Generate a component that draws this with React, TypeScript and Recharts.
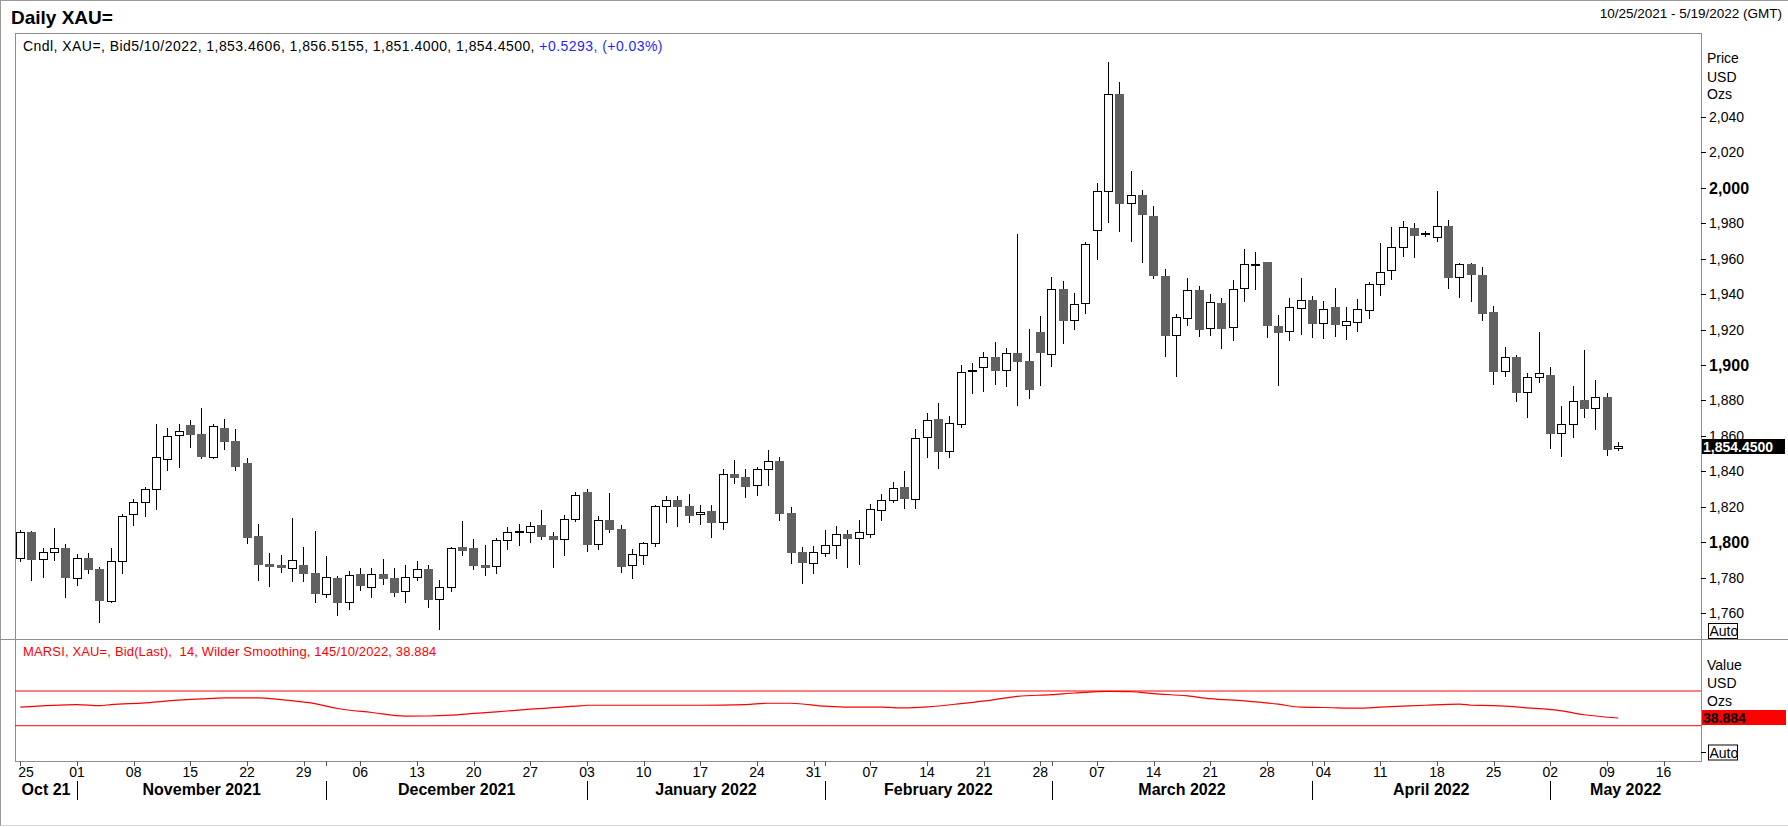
import React from "react";
import { ComposedChart, Bar, Line, XAxis, YAxis, ReferenceLine } from "recharts";

const FONT = "Arial, 'Liberation Sans', Helvetica, sans-serif";

// one candle per weekday, 25 Oct 2021 .. 10 May 2022 (index 0 = Oct 25)
const opens = [
  1790.8, 1805.6, 1790.2, 1794.2, 1796.6, 1779.9, 1790.8, 1784.7, 1766.9, 1789.6,
  1815.6, 1822.4, 1829.7, 1846.7, 1860.2, 1866.1, 1861.0, 1848.2, 1864.4, 1857.0,
  1844.6, 1803.4, 1787.6, 1787.0, 1785.5, 1787.0, 1782.5, 1770.5, 1779.7, 1766.0,
  1781.8, 1774.5, 1781.8, 1779.7, 1772.2, 1780.1, 1784.8, 1767.7, 1774.5, 1797.0,
  1796.5, 1786.9, 1786.3, 1801.0, 1805.5, 1805.5, 1809.7, 1803.4, 1801.6, 1812.8,
  1828.3, 1798.7, 1812.5, 1807.4, 1786.9, 1792.5, 1799.3, 1820.2, 1823.6, 1820.2,
  1815.7, 1817.6, 1811.2, 1838.5, 1836.8, 1832.1, 1841.1, 1845.8, 1816.4, 1794.4,
  1788.0, 1793.7, 1798.2, 1804.6, 1802.1, 1804.4, 1817.9, 1823.6, 1830.9, 1824.2,
  1859.2, 1869.5, 1851.3, 1866.9, 1896.4, 1898.6, 1904.5, 1897.0, 1906.8, 1902.3,
  1918.6, 1906.4, 1942.9, 1925.2, 1934.8, 1976.0, 1998.0, 2052.8, 1991.3, 1995.8,
  1983.9, 1950.2, 1916.7, 1926.3, 1942.1, 1920.7, 1935.0, 1921.3, 1943.3, 1956.4,
  1958.0, 1921.8, 1919.0, 1932.0, 1936.5, 1923.5, 1932.6, 1922.4, 1924.1, 1930.9,
  1945.5, 1953.4, 1966.4, 1977.2, 1973.8, 1972.1, 1978.5, 1949.5, 1956.8, 1950.6,
  1929.7, 1896.4, 1904.5, 1884.6, 1893.0, 1894.3, 1861.4, 1866.5, 1880.2, 1875.5,
  1881.9, 1853.4606,
];
const highs = [
  1807.1, 1806.2, 1796.4, 1807.9, 1798.9, 1793.2, 1793.8, 1785.7, 1796.6, 1815.8,
  1824.1, 1830.9, 1866.6, 1864.2, 1866.4, 1868.9, 1875.5, 1866.4, 1869.4, 1863.8,
  1847.4, 1810.2, 1793.8, 1792.7, 1813.5, 1797.2, 1806.3, 1792.1, 1780.9, 1783.5,
  1785.4, 1785.4, 1790.5, 1785.4, 1786.9, 1789.3, 1787.1, 1778.6, 1797.0, 1811.9,
  1801.7, 1798.4, 1802.1, 1808.5, 1810.2, 1811.3, 1818.1, 1805.7, 1815.1, 1828.1,
  1830.0, 1814.7, 1827.6, 1809.7, 1796.1, 1800.1, 1821.0, 1826.0, 1826.0, 1827.2,
  1821.0, 1821.0, 1841.1, 1846.4, 1841.1, 1842.4, 1852.0, 1847.9, 1819.8, 1797.2,
  1797.8, 1806.8, 1808.9, 1806.8, 1812.5, 1821.5, 1827.0, 1833.9, 1840.2, 1863.9,
  1872.9, 1878.6, 1871.2, 1900.0, 1901.3, 1907.5, 1913.2, 1909.8, 1973.9, 1920.3,
  1927.7, 1949.7, 1947.4, 1940.6, 1969.6, 2002.7, 2071.1, 2059.7, 2009.5, 1998.8,
  1989.6, 1954.0, 1928.6, 1948.9, 1944.4, 1940.1, 1937.6, 1947.8, 1965.5, 1963.8,
  1958.3, 1928.0, 1937.8, 1948.9, 1938.8, 1936.0, 1943.3, 1932.6, 1937.1, 1947.0,
  1968.7, 1977.7, 1981.1, 1980.0, 1975.6, 1998.2, 1981.8, 1957.4, 1957.4, 1955.1,
  1933.3, 1910.1, 1905.6, 1895.7, 1918.6, 1898.9, 1876.8, 1888.1, 1908.5, 1891.5,
  1884.2, 1856.5155,
];
const lows = [
  1788.9, 1778.2, 1779.5, 1789.5, 1768.2, 1775.3, 1782.1, 1754.4, 1765.9, 1782.1,
  1809.2, 1814.3, 1818.1, 1840.3, 1842.0, 1853.3, 1846.7, 1847.1, 1851.9, 1840.3,
  1799.1, 1778.2, 1774.8, 1782.7, 1777.6, 1777.6, 1765.8, 1768.6, 1758.5, 1761.9,
  1772.6, 1768.6, 1775.8, 1769.2, 1765.8, 1778.0, 1763.0, 1750.6, 1772.0, 1792.3,
  1784.4, 1781.0, 1782.2, 1795.7, 1798.0, 1799.7, 1801.2, 1785.6, 1792.3, 1811.5,
  1794.6, 1795.3, 1804.9, 1782.8, 1779.4, 1787.3, 1797.4, 1811.0, 1808.7, 1811.0,
  1809.9, 1802.5, 1807.0, 1833.0, 1825.1, 1826.2, 1831.9, 1812.1, 1787.8, 1776.5,
  1781.8, 1791.8, 1790.7, 1785.2, 1787.3, 1802.3, 1812.1, 1821.9, 1818.5, 1818.5,
  1847.7, 1841.5, 1847.7, 1864.6, 1883.8, 1884.9, 1888.7, 1887.4, 1877.0, 1881.0,
  1888.3, 1899.0, 1912.0, 1919.9, 1928.6, 1959.5, 1980.3, 1975.3, 1969.6, 1957.8,
  1948.7, 1904.7, 1893.4, 1922.2, 1916.0, 1916.5, 1909.2, 1913.7, 1935.8, 1942.5,
  1915.4, 1887.9, 1913.7, 1917.1, 1915.4, 1914.5, 1916.0, 1913.9, 1918.8, 1925.8,
  1938.8, 1948.2, 1961.2, 1960.2, 1972.1, 1969.6, 1942.7, 1938.0, 1935.7, 1925.0,
  1888.9, 1893.4, 1879.3, 1870.3, 1890.0, 1852.8, 1848.2, 1858.9, 1870.3, 1863.5,
  1848.8, 1851.4,
];
const closes = [
  1805.5, 1790.0, 1794.2, 1796.4, 1779.9, 1790.8, 1784.4, 1766.9, 1789.3, 1814.5,
  1822.4, 1829.7, 1847.8, 1859.7, 1862.5, 1860.6, 1848.2, 1865.3, 1856.6, 1842.5,
  1802.4, 1787.2, 1786.1, 1785.5, 1789.8, 1782.1, 1770.9, 1780.1, 1765.8, 1781.2,
  1775.4, 1781.8, 1779.4, 1771.5, 1780.1, 1784.6, 1767.5, 1774.5, 1796.5, 1795.2,
  1786.7, 1785.6, 1801.0, 1805.5, 1805.9, 1808.9, 1803.1, 1801.4, 1812.8, 1826.4,
  1798.5, 1812.3, 1807.0, 1786.1, 1793.1, 1799.3, 1820.2, 1823.6, 1820.0, 1814.9,
  1816.8, 1811.0, 1838.3, 1836.4, 1831.3, 1841.1, 1845.6, 1816.1, 1794.0, 1788.4,
  1794.2, 1798.2, 1804.4, 1802.0, 1805.5, 1818.5, 1823.6, 1830.4, 1824.5, 1858.6,
  1868.8, 1851.1, 1867.1, 1895.9, 1896.8, 1904.3, 1896.8, 1906.6, 1901.9, 1886.1,
  1907.0, 1942.7, 1925.0, 1934.2, 1968.1, 1998.0, 2052.8, 1991.1, 1995.8, 1984.9,
  1950.4, 1916.6, 1926.9, 1942.1, 1920.0, 1935.4, 1920.5, 1942.7, 1956.8, 1956.8,
  1922.2, 1918.3, 1932.6, 1936.5, 1923.3, 1931.4, 1922.8, 1924.6, 1931.4, 1945.5,
  1952.7, 1966.4, 1977.7, 1973.0, 1974.1, 1978.3, 1949.3, 1956.8, 1951.0, 1929.0,
  1896.2, 1904.3, 1884.4, 1893.0, 1895.3, 1861.2, 1866.5, 1879.5, 1875.3, 1881.7,
  1852.2, 1854.45,
];

// RSI readings (candle index -> value)
const rsiIdx = [
  0, 5, 7, 8, 11, 13, 16, 18, 21, 23, 26, 28, 31, 34, 36, 38, 40, 42, 45, 49,
  50, 55, 60, 64, 66, 68, 71, 73, 76, 78, 80, 83, 86, 88, 91, 93, 96, 98, 100, 103,
  105, 108, 111, 113, 115, 118, 120, 122, 124, 127, 128, 130, 133, 136, 138, 141,
];
const rsiVals = [
  51.3, 54.4, 53.2, 54.4, 56.3, 58.6, 60.9, 62.0, 62.0, 60.1, 55.5, 49.8, 45.2, 41.0, 41.2, 42.2, 44.1, 46.0, 49.0, 52.5,
  53.6, 53.6, 53.6, 54.4, 55.9, 55.9, 52.5, 51.3, 51.3, 50.6, 51.7, 55.5, 60.1, 63.9, 65.8, 67.7, 69.6, 69.2, 67.0, 64.3,
  61.2, 58.6, 54.8, 51.3, 51.0, 50.2, 51.3, 52.5, 53.6, 54.8, 53.6, 53.2, 50.6, 47.1, 42.6, 38.884,
];

const weekTickIdx = [
  0, 5, 10, 15, 20, 25, 30, 35, 40, 45, 50, 55, 60, 65, 70,
  75, 80, 85, 90, 95, 100, 105, 110, 115, 120, 125, 130, 135, 140, 145,
];
const weekLabels = [
  "25", "01", "08", "15", "22", "29", "06", "13", "20", "27", "03", "10", "17", "24", "31",
  "07", "14", "21", "28", "07", "14", "21", "28", "04", "11", "18", "25", "02", "09", "16",
];
const monthNames = [
  "Oct 21", "November 2021", "December 2021", "January 2022",
  "February 2022", "March 2022", "April 2022", "May 2022",
];
const monthStarts = [5, 27, 50, 71, 91, 114, 135];
const priceTicks = [1760, 1780, 1800, 1820, 1840, 1860, 1880, 1900, 1920, 1940, 1960, 1980, 2000, 2020, 2040];

const lastClose = 1854.45;
const lastRsi = 38.884;
const titleText = "Daily XAU=";
const rangeText = "10/25/2021 - 5/19/2022 (GMT)";
const priceLegend = "Cndl, XAU=, Bid5/10/2022, 1,853.4606, 1,856.5155, 1,851.4000, 1,854.4500, ";
const priceChange = "+0.5293, (+0.03%)";
const rsiLegend = "MARSI, XAU=, Bid(Last),  14, Wilder Smoothing, 145/10/2022, 38.884";

const X_DOMAIN: [number, number] = [-0.47, 148.3];
const PRICE_DOMAIN: [number, number] = [1745.3, 2087.4];
const RSI_DOMAIN: [number, number] = [-10.7, 128.8];

const candles = opens.map((o, k) => ({ i: k, open: o, high: highs[k], low: lows[k], close: closes[k] }));
const rsiRows = rsiIdx.map((i, k) => ({ i, v: rsiVals[k] }));

const bounds = [X_DOMAIN[0], ...monthStarts, X_DOMAIN[1]];
const monthCenters = monthNames.map((_, k) => (bounds[k] + bounds[k + 1]) / 2);
const axisTicks = Array.from(new Set([...weekTickIdx, ...monthStarts, ...monthCenters])).sort((a, b) => a - b);

const DOWN = "#616161";

function Candle(props: any) {
  const { x, y, width, height, payload } = props;
  if (!payload || !isFinite(y) || !isFinite(height)) return null;
  const { open, close, high, low } = payload;
  const top = Math.min(y, y + height);
  const h = Math.abs(height);
  const at = (v: number) => top + ((high - v) / (high - low || 1)) * h;
  const cx = Math.round(x + width / 2) + 0.5;
  const bTop = at(Math.max(open, close));
  const bBot = at(Math.min(open, close));
  const up = close >= open;
  let body;
  if (bBot - bTop < 1.5) {
    body = <rect x={cx - 4.5} y={Math.round((bTop + bBot) / 2) - 1} width={9} height={2} fill="#000" />;
  } else if (up) {
    const t = Math.round(bTop) + 0.5;
    const b = Math.max(t + 2, Math.round(bBot) + 0.5);
    body = <rect x={cx - 4} y={t} width={8} height={b - t} fill="#fff" stroke="#000" strokeWidth={1} />;
  } else {
    const t = Math.round(bTop);
    const b = Math.round(bBot);
    body = <rect x={cx - 4.5} y={t} width={9} height={Math.max(1, b - t)} fill={DOWN} />;
  }
  return (
    <g>
      <line x1={cx} x2={cx} y1={Math.round(top)} y2={Math.round(top + h)} stroke="#000" strokeWidth={1} />
      {body}
    </g>
  );
}

function PriceTick(props: any) {
  const { x, y, payload } = props;
  const v = payload.value as number;
  const major = v % 100 === 0;
  const yy = Math.round(y) + 0.5;
  return (
    <g>
      <line x1={x} x2={x + 5} y1={yy} y2={yy} stroke="#000" />
      <text x={x + 8} y={y} dy="0.36em" fontSize={major ? 16 : 14} fontWeight={major ? 700 : 400} fill="#000" fontFamily={FONT}>
        {v.toLocaleString("en-US")}
      </text>
    </g>
  );
}

function AutoTick(props: any) {
  const { x, y } = props;
  const yy = Math.round(y) + 0.5;
  return (
    <g>
      <line x1={x} x2={x + 5} y1={yy} y2={yy} stroke="#000" />
      <rect x={x + 7.5} y={yy - 7.5} width={29} height={15} fill="#fff" stroke="#000" />
      <text x={x + 8.5} y={yy} dy="0.36em" fontSize={14} fill="#000" fontFamily={FONT}>Auto</text>
    </g>
  );
}

function DateTick(props: any) {
  const { x, y, payload } = props;
  const v = payload.value as number;
  const px = Math.round(x) + 0.5;
  const w = weekTickIdx.indexOf(v);
  const isStart = monthStarts.includes(v);
  const m = monthCenters.indexOf(v);
  return (
    <g fontFamily={FONT}>
      {(w >= 0 || isStart) && <line x1={px} x2={px} y1={y} y2={y + 5} stroke="#555" />}
      {w >= 0 && (
        <text x={w === 0 ? x - 2 : x} y={y + 11} dy="0.35em" textAnchor={w === 0 ? "start" : "middle"} fontSize={14} fill="#000">
          {weekLabels[w]}
        </text>
      )}
      {isStart && <line x1={px} x2={px} y1={y + 20} y2={y + 39} stroke="#000" />}
      {m >= 0 && (
        <text x={x} y={y + 28} dy="0.35em" textAnchor="middle" fontSize={16} fontWeight={700} fill="#000">
          {monthNames[m]}
        </text>
      )}
    </g>
  );
}

function PriceTag(props: any) {
  const vb = props.viewBox;
  if (!vb) return null;
  const x0 = vb.x + vb.width + 1;
  const y = Math.round(vb.y);
  return (
    <g>
      <rect x={x0} y={y - 7} width={83} height={15} fill="#000" />
      <text x={x0 + 1} y={y + 0.5} dy="0.36em" fontSize={14} fontWeight={700} fill="#fff" fontFamily={FONT}>
        {lastClose.toLocaleString("en-US", { minimumFractionDigits: 4, maximumFractionDigits: 4 })}
      </text>
    </g>
  );
}

function RsiTag(props: any) {
  const vb = props.viewBox;
  if (!vb) return null;
  const x0 = vb.x + vb.width + 1;
  const y = Math.round(vb.y);
  return (
    <g>
      <rect x={x0} y={y - 8} width={84} height={15} fill="#ff0000" />
      <text x={x0 + 1} y={y - 0.5} dy="0.36em" fontSize={14} fontWeight={700} fill="#000" fontFamily={FONT}>
        {lastRsi.toFixed(3)}
      </text>
    </g>
  );
}

function PriceChart() {
  return (
    <ComposedChart width={1788} height={640} data={candles} margin={{ top: 33, right: 0, bottom: 1, left: 15 }}>
      <XAxis dataKey="i" type="number" domain={X_DOMAIN} allowDataOverflow hide />
      <YAxis
        orientation="right"
        width={87}
        domain={PRICE_DOMAIN}
        allowDataOverflow
        ticks={priceTicks}
        interval={0}
        axisLine={false}
        tickLine={false}
        tickSize={0}
        tickMargin={0}
        tick={(p: any) => <PriceTick {...p} />}
      />
      <Bar
        dataKey={(d: any) => [d.low, d.high]}
        barSize={9}
        shape={(p: any) => <Candle {...p} />}
        isAnimationActive={false}
      />
      <ReferenceLine y={lastClose} stroke="none" label={(p: any) => <PriceTag {...p} />} />
    </ComposedChart>
  );
}

function RsiChart() {
  return (
    <ComposedChart width={1788} height={188} data={rsiRows} margin={{ top: 1, right: 0, bottom: 0, left: 15 }}>
      <XAxis
        dataKey="i"
        type="number"
        domain={X_DOMAIN}
        allowDataOverflow
        ticks={axisTicks}
        interval={0}
        height={66}
        axisLine={false}
        tickLine={false}
        tickSize={0}
        tickMargin={0}
        tick={(p: any) => <DateTick {...p} />}
      />
      <YAxis
        orientation="right"
        width={87}
        domain={RSI_DOMAIN}
        allowDataOverflow
        ticks={[0]}
        interval={0}
        axisLine={false}
        tickLine={false}
        tickSize={0}
        tickMargin={0}
        tick={(p: any) => <AutoTick {...p} />}
      />
      <ReferenceLine y={70} stroke="#ff0000" />
      <ReferenceLine y={30} stroke="#ff0000" />
      <Line dataKey="v" type="monotone" stroke="#ff0000" strokeWidth={1.2} dot={false} isAnimationActive={false} />
      <ReferenceLine y={lastRsi} stroke="none" label={(p: any) => <RsiTag {...p} />} />
    </ComposedChart>
  );
}

export default function App() {
  return (
    <div style={{ position: "absolute", left: 0, top: 0, width: 1788, height: 827, background: "#fff", overflow: "hidden" }}>
      <div
        style={{
          position: "absolute", left: 0, top: 0, width: 1788, height: 826, boxSizing: "border-box",
          borderTop: "1px solid #9a9a9a", borderLeft: "1px solid #9a9a9a", borderBottom: "1px solid #d8d8d8",
        }}
      />
      <div style={{ position: "absolute", left: 15, top: 33, width: 1685, height: 727, border: "1px solid #8e8e8e" }} />
      <div style={{ position: "absolute", left: 0, top: 639, width: 1788, height: 1, background: "#8e8e8e" }} />
      <div style={{ position: "absolute", left: 0, top: 0 }}>
        <PriceChart />
      </div>
      <div style={{ position: "absolute", left: 0, top: 639 }}>
        <RsiChart />
      </div>
      <svg width={1788} height={827} style={{ position: "absolute", left: 0, top: 0, pointerEvents: "none" }} fontFamily={FONT}>
        <text x={11} y={23.5} fontSize={19} fontWeight={700} fill="#000">{titleText}</text>
        <text x={1782} y={18} fontSize={13.5} textAnchor="end" fill="#000">{rangeText}</text>
        <text x={23} y={51} fontSize={14} letterSpacing={0.45} fill="#000">
          {priceLegend}
          <tspan fill="#1f1fff">{priceChange}</tspan>
        </text>
        <text x={23} y={656} fontSize={13} letterSpacing={0.15} fill="#ff0000" style={{ whiteSpace: "pre" }}>{rsiLegend}</text>
        <text x={1707} y={63} fontSize={14} fill="#000">Price</text>
        <text x={1707} y={81.5} fontSize={14} fill="#000">USD</text>
        <text x={1707} y={99} fontSize={14} fill="#000">Ozs</text>
        <rect x={1708.5} y={623.5} width={29} height={15} fill="#fff" stroke="#000" />
        <text x={1709.5} y={636} fontSize={14} fill="#000">Auto</text>
        <text x={1707} y={670} fontSize={14} fill="#000">Value</text>
        <text x={1707} y={688} fontSize={14} fill="#000">USD</text>
        <text x={1707} y={705.5} fontSize={14} fill="#000">Ozs</text>
      </svg>
    </div>
  );
}
